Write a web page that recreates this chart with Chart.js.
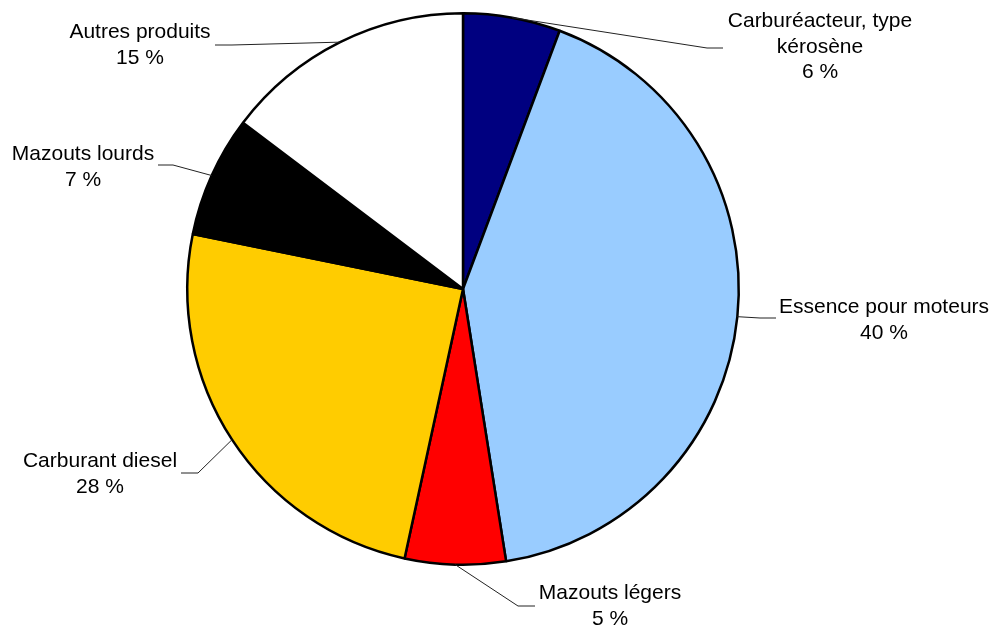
<!DOCTYPE html>
<html>
<head>
<meta charset="utf-8">
<script src="https://cdn.jsdelivr.net/npm/chart.js@4"></script>
<style>
  html, body { margin: 0; padding: 0; background: #fff; }
  #wrap { width: 996px; height: 631px; }
</style>
</head>
<body>
<div id="wrap"><canvas id="produitsChart" width="996" height="631"></canvas></div>
<script>
// Données
const categories = [
    ['Carburéacteur, type', 'kérosène'],
    ['Essence pour moteurs'],
    ['Mazouts légers'],
    ['Carburant diesel'],
    ['Mazouts lourds'],
    ['Autres produits']
];
const parts = [5.7, 41.8, 5.9, 24.8, 7.1, 14.7];
const etiquettesPct = ['6 %', '40 %', '5 %', '28 %', '7 %', '15 %'];
const couleurs = ['#000080', '#99CCFF', '#FF0000', '#FFCC00', '#000000', '#FFFFFF'];

// Position des étiquettes et des lignes de rappel (coude, fin, texte)
const placement = [
    { coude: [707, 48], fin: [723, 48], texte: [820, 27] },
    { coude: [760, 318], fin: [776, 318], texte: [884, 313] },
    { coude: [518, 606], fin: [535, 606], texte: [610, 599] },
    { coude: [198, 473], fin: [181, 473], texte: [100, 467] },
    { coude: [173, 165], fin: [158, 165], texte: [83, 160] },
    { coude: [232, 45], fin: [215, 45], texte: [140, 38] }
];

const etiquettes = {
    id: 'etiquettes',
    afterDatasetsDraw(chart) {
        const ctx = chart.ctx;
        const arcs = chart.getDatasetMeta(0).data;
        ctx.save();
        arcs.forEach(function(arc, i) {
            const p = arc.getProps(['x', 'y', 'startAngle', 'endAngle', 'outerRadius'], true);
            const milieu = (p.startAngle + p.endAngle) / 2;
            const x0 = p.x + Math.cos(milieu) * p.outerRadius;
            const y0 = p.y + Math.sin(milieu) * p.outerRadius;
            const pl = placement[i];
            ctx.strokeStyle = '#222';
            ctx.lineWidth = 1;
            ctx.beginPath();
            ctx.moveTo(x0, y0);
            ctx.lineTo(pl.coude[0], pl.coude[1]);
            ctx.lineTo(pl.fin[0], pl.fin[1]);
            ctx.stroke();

            ctx.fillStyle = '#000';
            ctx.font = '21px "Liberation Sans", Arial, sans-serif';
            ctx.textAlign = 'center';
            ctx.textBaseline = 'alphabetic';
            const lignes = categories[i].concat([etiquettesPct[i]]);
            lignes.forEach(function(l, k) {
                ctx.fillText(l, pl.texte[0], pl.texte[1] + k * 25.5);
            });
        });
        ctx.restore();
    }
};

const ctx = document.getElementById('produitsChart').getContext('2d');
new Chart(ctx, {
    type: 'pie',
    data: {
        labels: categories.map(c => c.join(' ')),
        datasets: [{
            data: parts,
            backgroundColor: couleurs,
            borderColor: '#000000',
            borderWidth: 2.5
        }]
    },
    options: {
        responsive: false,
        animation: false,
        layout: {
            padding: { left: 186, right: 256, top: 11, bottom: 64 }
        },
        plugins: {
            legend: { display: false },
            tooltip: { enabled: false },
            title: { display: false }
        }
    },
    plugins: [etiquettes]
});
</script>
</body>
</html>
